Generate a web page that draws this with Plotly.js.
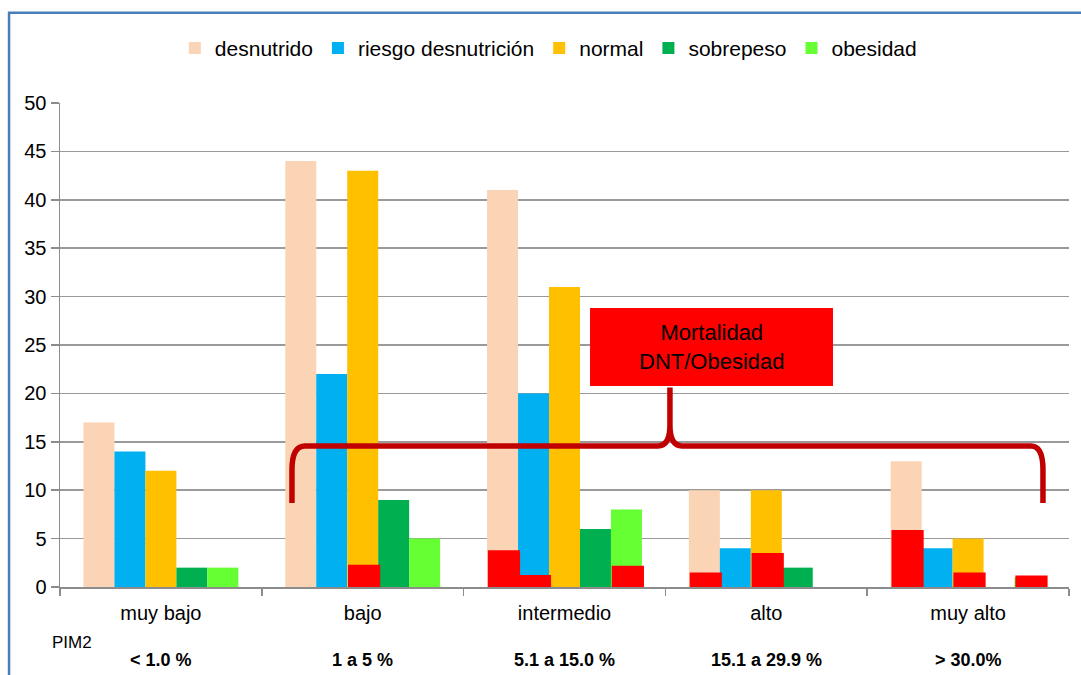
<!DOCTYPE html>
<html>
<head>
<meta charset="utf-8">
<script src="https://cdn.plot.ly/plotly-3.0.1.min.js"></script>
<style>
  html, body { margin: 0; padding: 0; background: #ffffff; }
  #chart { width: 1081px; height: 675px; }
</style>
</head>
<body>
<div id="chart"></div>
<script>
// Categorías de riesgo PIM2
const categories = ['muy bajo', 'bajo', 'intermedio', 'alto', 'muy alto'];
const pimRanges = ['< 1.0 %', '1 a 5 %', '5.1 a 15.0 %', '15.1 a 29.9 %', '> 30.0%'];

// Pacientes por estado nutricional
const seriesNames = ['desnutrido', 'riesgo desnutrición', 'normal', 'sobrepeso', 'obesidad'];
const desnutrido = [17, 44, 41, 10, 13];
const riesgoDesnutricion = [14, 22, 20, 4, 4];
const normal = [12, 43, 31, 10, 5];
const sobrepeso = [2, 9, 6, 2, 0];
const obesidad = [2, 5, 8, 0, 1];

// Mortalidad dentro de cada grupo (null = sin fallecidos)
const mortDesnutrido = [null, null, 3.8, 1.5, 5.9];
const mortRiesgo = [null, null, 1.25, null, null];
const mortNormal = [null, 2.3, null, 3.5, 1.5];
const mortObesidad = [null, null, 2.2, null, 1.2];

const colors = ['#FAD4B4', '#00B0F0', '#FFC000', '#00B050', '#66FF33'];
const mortColor = '#FF0000';

// Each category holds five side-by-side slots
const slotW = 0.1535;
const slotStart = -2.5 * slotW;
const slotOffset = i => slotStart + i * slotW;

const seriesValues = [desnutrido, riesgoDesnutricion, normal, sobrepeso, obesidad];
const traces = seriesValues.map((vals, i) => ({
  type: 'bar',
  name: seriesNames[i],
  x: categories,
  y: vals,
  offset: slotOffset(i),
  width: slotW,
  marker: { color: colors[i], line: { width: 0 } },
  hoverinfo: 'x+y+name'
}));

// Mortality bars painted over the slot of the group they belong to
const mortSeries = [
  { vals: mortDesnutrido, slot: 0 },
  { vals: mortRiesgo, slot: 1 },
  { vals: mortNormal, slot: 2 },
  { vals: mortObesidad, slot: 4 }
];
mortSeries.forEach(m => {
  traces.push({
    type: 'bar',
    name: 'mortalidad',
    showlegend: false,
    x: categories,
    y: m.vals,
    offset: slotOffset(m.slot) + 0.004,
    width: slotW * 1.04,
    marker: { color: mortColor, line: { width: 0 } },
    hoverinfo: 'x+y+name'
  });
});

const font = 'Liberation Sans, Arial, sans-serif';

// Brace spanning bajo to muy alto, pointing at the label box
const brace = 'M 0.2299,8.68 L 0.2299,12.1 Q 0.2299,14.57 0.2428,14.57 ' +
  'L 0.5927,14.57 Q 0.6045,14.57 0.6045,16.7 L 0.6045,20.6 ' +
  'L 0.6045,16.7 Q 0.6045,14.57 0.6164,14.57 ' +
  'L 0.9623,14.57 Q 0.9742,14.57 0.9742,12.1 L 0.9742,8.68';

const annotations = pimRanges.map((t, i) => ({
  xref: 'x', yref: 'paper',
  x: categories[i], y: -0.15,
  text: '<b>' + t + '</b>',
  showarrow: false,
  font: { family: font, size: 18, color: '#000000' },
  xanchor: 'center', yanchor: 'middle'
}));
annotations.push({
  xref: 'paper', yref: 'paper',
  x: 0.0115, y: -0.1157,
  text: 'PIM2', showarrow: false,
  font: { family: font, size: 17, color: '#000000' },
  xanchor: 'center', yanchor: 'middle'
});
annotations.push({
  xref: 'paper', yref: 'y',
  x: 0.6457, y: 24.8,
  text: 'Mortalidad<br>DNT/Obesidad', showarrow: false,
  font: { family: font, size: 22, color: '#000000' },
  align: 'center', xanchor: 'center', yanchor: 'middle'
});

const layout = {
  width: 1081,
  height: 675,
  margin: { l: 60, r: 12, t: 103, b: 88 },
  paper_bgcolor: '#ffffff',
  plot_bgcolor: '#ffffff',
  barmode: 'overlay',
  font: { family: font, size: 20, color: '#000000' },
  showlegend: true,
  legend: {
    orientation: 'h',
    x: 0.484, xanchor: 'center',
    y: 1.113, yanchor: 'middle',
    font: { family: font, size: 21, color: '#000000' },
    itemwidth: 30,
    traceorder: 'normal',
    bgcolor: 'rgba(0,0,0,0)'
  },
  xaxis: {
    type: 'category',
    showgrid: false,
    showline: true,
    linecolor: '#8c8c8c',
    linewidth: 1.5,
    ticks: 'outside',
    tickson: 'boundaries',
    ticklen: 7,
    tickcolor: '#8c8c8c',
    tickwidth: 1.5,
    ticklabelstandoff: 7,
    tickfont: { family: font, size: 20, color: '#000000' },
    zeroline: false,
    fixedrange: true
  },
  yaxis: {
    range: [0, 50],
    dtick: 5,
    tick0: 0,
    showgrid: true,
    gridcolor: '#9a9a9a',
    gridwidth: 1.5,
    showline: true,
    linecolor: '#8c8c8c',
    linewidth: 1.5,
    ticks: 'outside',
    ticklen: 8,
    tickcolor: '#8c8c8c',
    tickwidth: 1.5,
    tickfont: { family: font, size: 20, color: '#000000' },
    zeroline: false,
    fixedrange: true
  },
  shapes: [
    // chart frame
    {
      type: 'rect', xref: 'paper', yref: 'paper',
      x0: -0.0505, x1: 1.05, y0: -0.3, y1: 1.1865,
      line: { color: '#4A7EBB', width: 2.5 },
      fillcolor: 'rgba(0,0,0,0)', layer: 'below'
    },
    // label box
    {
      type: 'rect', xref: 'paper', yref: 'y',
      x0: 0.5253, x1: 0.7661, y0: 20.76, y1: 28.82,
      line: { width: 0 }, fillcolor: '#FF0000', layer: 'above'
    },
    {
      type: 'path', xref: 'paper', yref: 'y',
      path: brace,
      line: { color: '#C00000', width: 5.5 },
      fillcolor: 'rgba(0,0,0,0)', layer: 'above'
    }
  ],
  annotations: annotations
};

Plotly.newPlot('chart', traces, layout, { displayModeBar: false, staticPlot: true });
</script>
</body>
</html>
